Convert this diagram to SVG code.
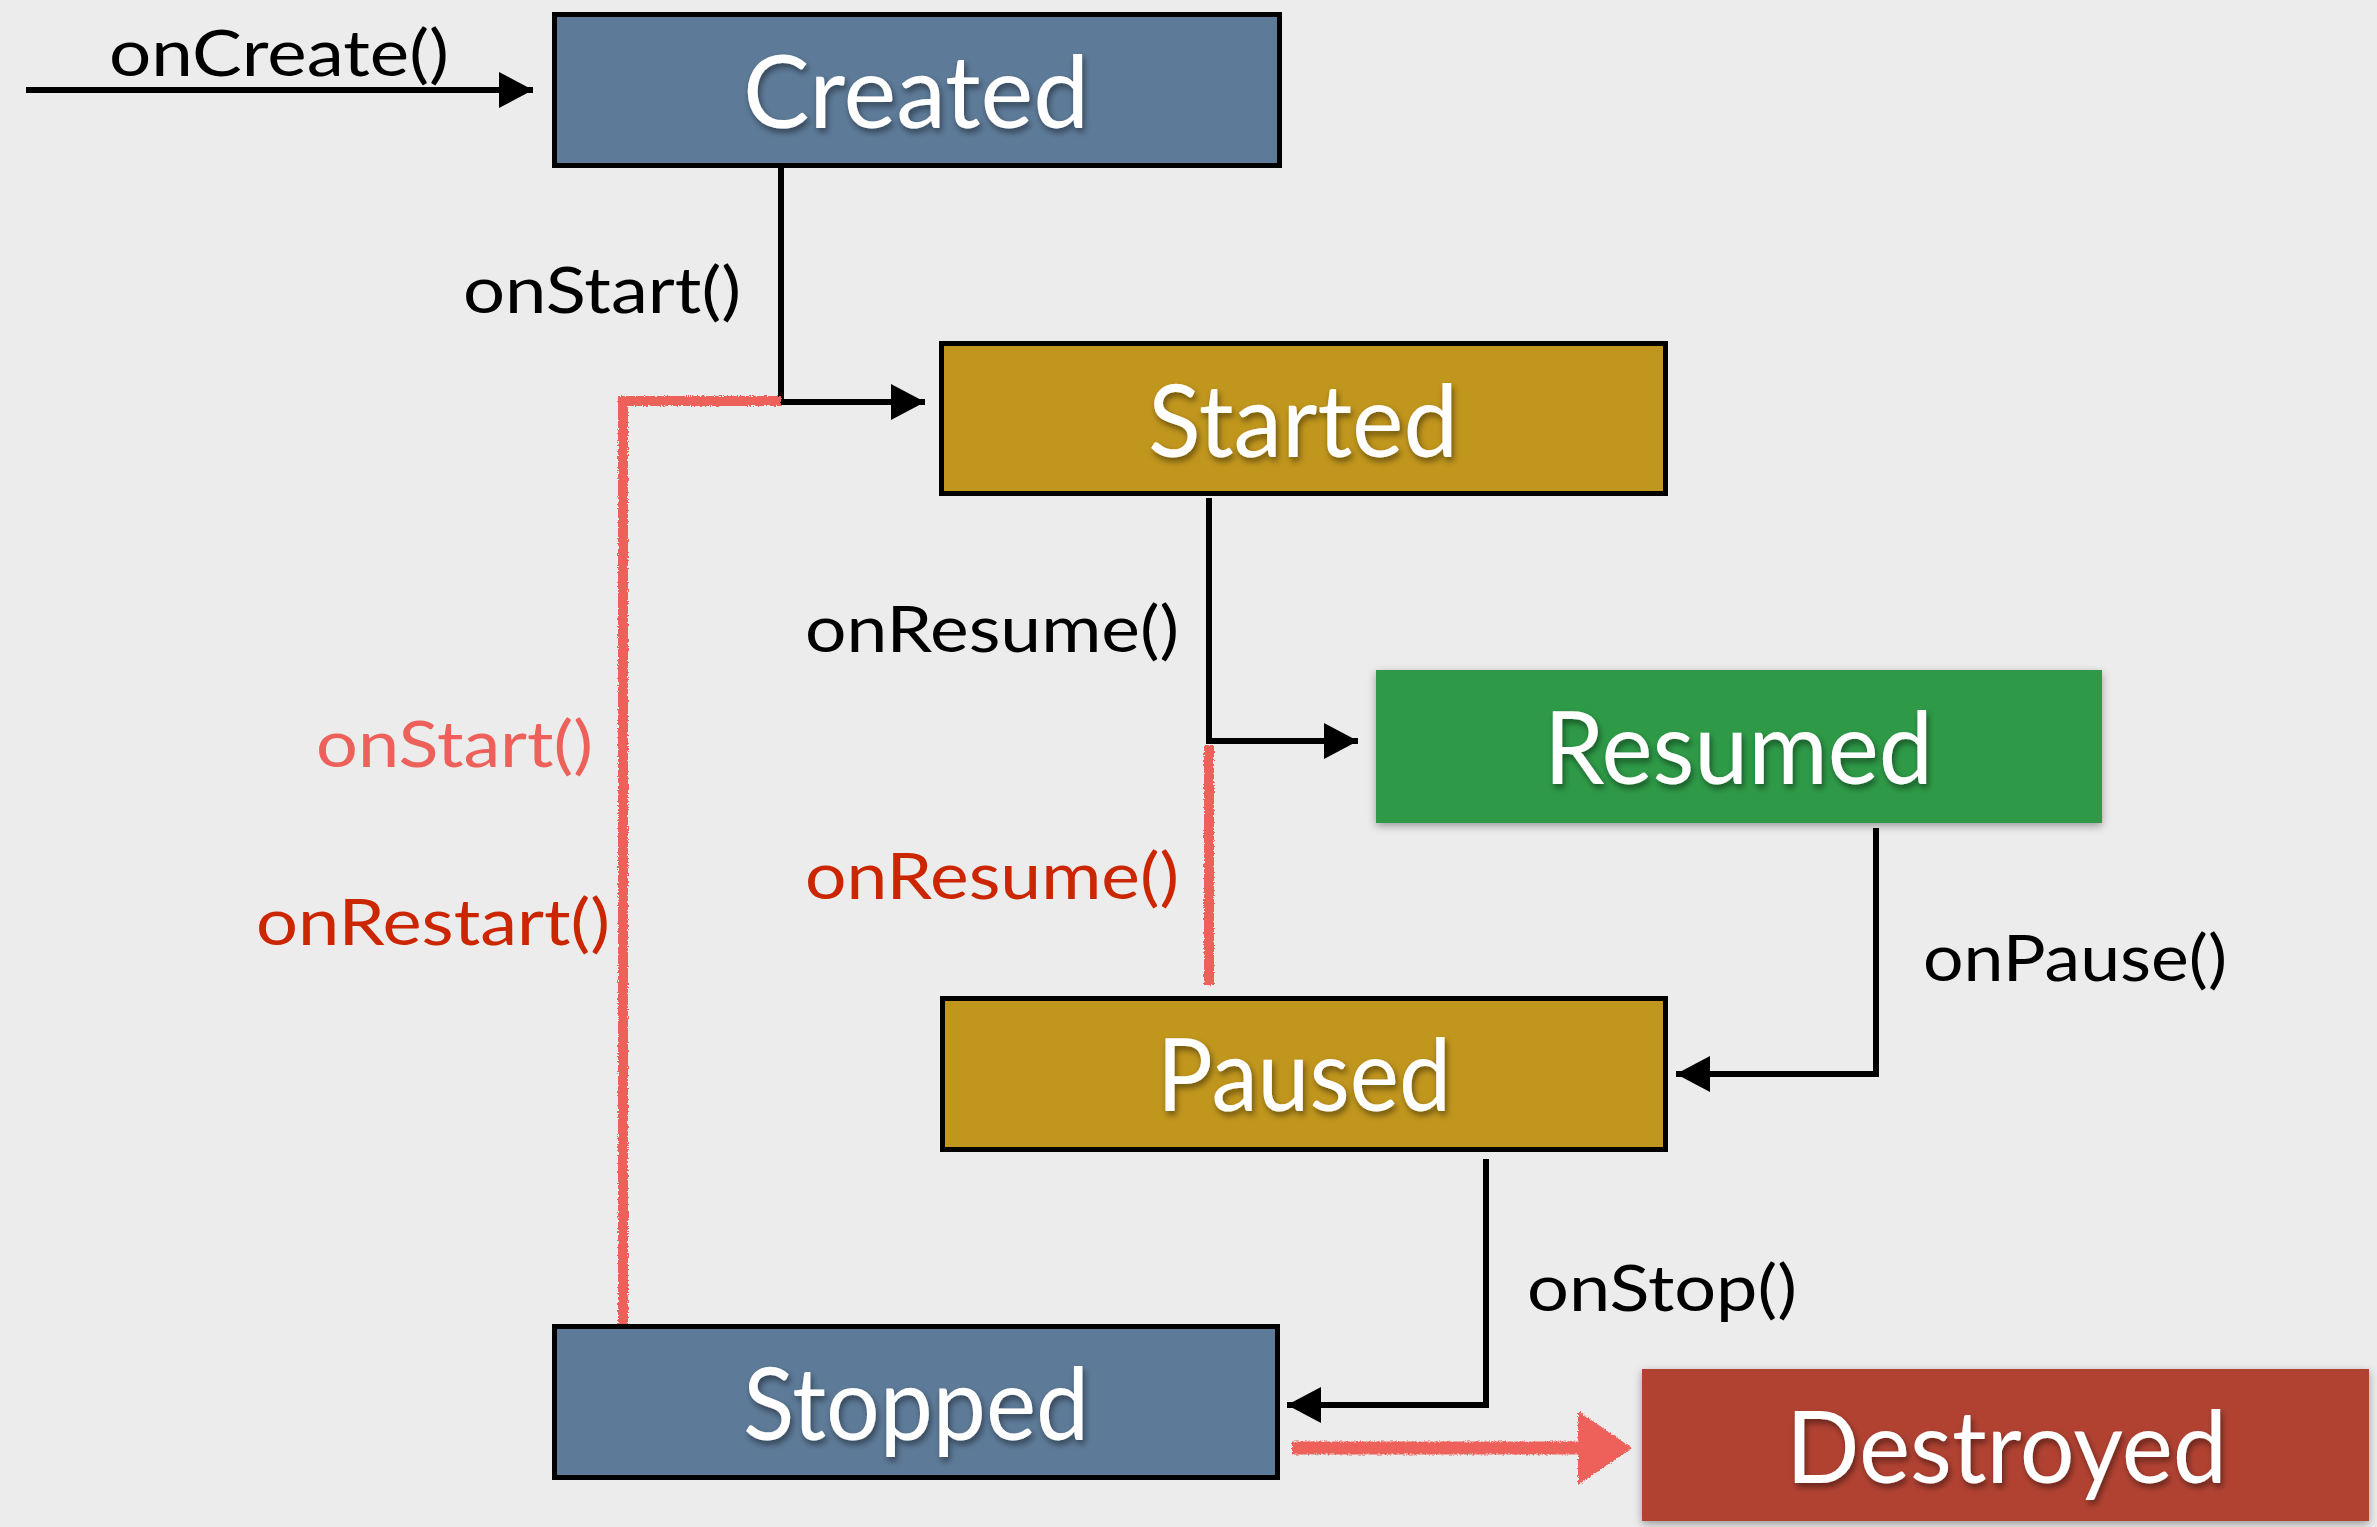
<svg xmlns="http://www.w3.org/2000/svg" width="2377" height="1527" viewBox="0 0 2377 1527">
<style>
.node-title{font-family:Lato,"Open Sans","Liberation Sans",sans-serif;font-size:101px;fill:#ffffff;text-anchor:start}
.lbl{font-family:Lato,"Open Sans","Liberation Sans",sans-serif;font-size:63px;fill:#000000}
.lbl-red{fill:#EE605A}
.lbl-dark{fill:#CC2600}
.bordered{stroke:#000;stroke-width:5}
.conn{stroke:#000;stroke-width:6;fill:none}
.chalk{stroke:#EE605A;fill:none;stroke-width:10;filter:url(#rough)}
</style>
<defs>
<marker id="ah" markerWidth="34" markerHeight="36" refX="34" refY="18" orient="auto" markerUnits="userSpaceOnUse">
<path d="M0,0 L34,18 L0,36 Z" fill="#000"/>
</marker>
<filter id="rough" filterUnits="userSpaceOnUse" x="0" y="0" width="2377" height="1527">
<feTurbulence type="fractalNoise" baseFrequency="0.6" numOctaves="2" seed="3" result="n"/>
<feDisplacementMap in="SourceGraphic" in2="n" scale="4" xChannelSelector="R" yChannelSelector="G"/>
</filter>
<filter id="tshadow" x="-10%" y="-10%" width="120%" height="130%">
<feDropShadow dx="2" dy="4" stdDeviation="3" flood-color="#000" flood-opacity="0.45"/>
</filter>
<filter id="bshadow" x="-5%" y="-10%" width="110%" height="125%">
<feDropShadow dx="0" dy="3" stdDeviation="4" flood-color="#000" flood-opacity="0.35"/>
</filter>
</defs>
<rect x="0" y="0" width="2377" height="1527" fill="#ECECEC"/>

<g id="connectors">
<line class="conn" x1="26" y1="90" x2="533" y2="90" marker-end="url(#ah)"/>
<polyline class="conn" points="781,166 781,402 925,402" marker-end="url(#ah)"/>
<polyline class="conn" points="1209,498 1209,741 1358,741" marker-end="url(#ah)"/>
<polyline class="conn" points="1876,828 1876,1074 1676,1074" marker-end="url(#ah)"/>
<polyline class="conn" points="1486,1159 1486,1405 1287,1405" marker-end="url(#ah)"/>
<polyline class="chalk" points="623,1328 623,401 781,401"/>
<line class="chalk" x1="1209" y1="745" x2="1209" y2="985"/>
<g filter="url(#rough)">
<line x1="1292" y1="1448" x2="1590" y2="1448" stroke="#EE605A" stroke-width="13"/>
<path d="M1578,1411 L1632,1448 L1578,1485 Z" fill="#EE605A"/>
</g>
</g>

<g id="labels">
<text class="lbl" x="109" y="76" textLength="340" lengthAdjust="spacingAndGlyphs">onCreate()</text>
<text class="lbl" x="463" y="313" textLength="278" lengthAdjust="spacingAndGlyphs">onStart()</text>
<text class="lbl" x="805" y="652" textLength="374" lengthAdjust="spacingAndGlyphs">onResume()</text>
<text class="lbl" x="1923" y="981" textLength="304" lengthAdjust="spacingAndGlyphs">onPause()</text>
<text class="lbl" x="1527" y="1311" textLength="270" lengthAdjust="spacingAndGlyphs">onStop()</text>
<text class="lbl lbl-red" x="316" y="767" textLength="277" lengthAdjust="spacingAndGlyphs">onStart()</text>
<text class="lbl lbl-dark" x="256" y="945" textLength="354" lengthAdjust="spacingAndGlyphs">onRestart()</text>
<text class="lbl lbl-dark" x="805" y="899" textLength="374" lengthAdjust="spacingAndGlyphs">onResume()</text>
</g>

<g id="node-created">
<rect class="bordered" x="554.5" y="14.5" width="725" height="151" fill="#5D7A98"/>
<text class="node-title" x="743" y="128" textLength="346" lengthAdjust="spacingAndGlyphs" filter="url(#tshadow)">Created</text>
</g>

<g id="node-started">
<rect class="bordered" x="941.5" y="343.5" width="724" height="150" fill="#C1961D"/>
<text class="node-title" x="1148" y="457" textLength="310" lengthAdjust="spacingAndGlyphs" filter="url(#tshadow)">Started</text>
</g>

<g id="node-resumed">
<rect x="1376" y="670" width="726" height="153" fill="#2F9A47" filter="url(#bshadow)"/>
<text class="node-title" x="1544" y="784" textLength="389" lengthAdjust="spacingAndGlyphs" filter="url(#tshadow)">Resumed</text>
</g>

<g id="node-paused">
<rect class="bordered" x="942.5" y="998.5" width="723" height="151" fill="#C1961D"/>
<text class="node-title" x="1157" y="1111" textLength="294" lengthAdjust="spacingAndGlyphs" filter="url(#tshadow)">Paused</text>
</g>

<g id="node-stopped">
<rect class="bordered" x="554.5" y="1326.5" width="723" height="151" fill="#5D7A98"/>
<text class="node-title" x="743" y="1440" textLength="346" lengthAdjust="spacingAndGlyphs" filter="url(#tshadow)">Stopped</text>
</g>

<g id="node-destroyed">
<rect x="1642" y="1369" width="727" height="152" fill="#B14332" filter="url(#bshadow)"/>
<text class="node-title" x="1786" y="1483" textLength="441" lengthAdjust="spacingAndGlyphs" filter="url(#tshadow)">Destroyed</text>
</g>
</svg>
